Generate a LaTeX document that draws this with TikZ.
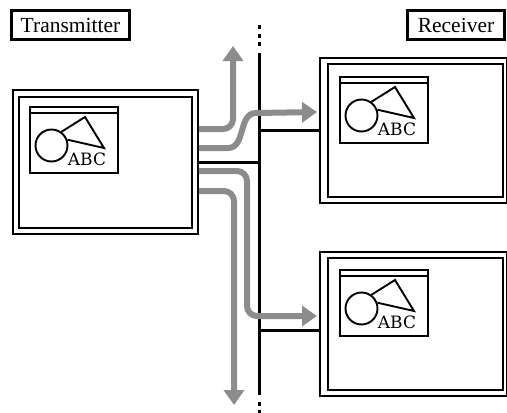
\documentclass[tikz,border=0pt]{standalone}
\usepackage{fontspec}
\setmainfont{Liberation Serif}
\newfontfamily\slabfont{DejaVu Serif}
\usetikzlibrary{arrows.meta, positioning, calc}
\tikzstyle{label} = [rectangle, draw=black, line width=2.4pt, font=\fontsize{21.5}{24}\selectfont, inner sep=0pt, minimum height=29pt]
\tikzstyle{terminal} = [rectangle, draw=black, line width=1.9pt, minimum width=#1, anchor=north west]
\tikzstyle{screen} = [rectangle, draw=black, line width=1.9pt, minimum width=88pt, minimum height=66pt, anchor=north west]
\tikzstyle{bus} = [line width=3pt]
\tikzstyle{signal} = [line width=6pt, draw=black!45, rounded corners=10pt, -{Triangle[width=20pt,length=15pt,fill=black!45]}]
\tikzset{
  picture/.pic = {
    \draw[line width=1.7pt] (0,7) -- (88,7);
    \node[circle, draw=black, line width=1.9pt, minimum size=32pt, inner sep=0pt] (-disc) at (22.5,39.5) {};
    \coordinate (-apex) at (56,11);
    \coordinate (-tip) at (75,42);
    \draw[line width=1.9pt] (-disc.54) -- (-apex) -- (-tip) -- (-disc.20);
    \node[font=\slabfont\fontsize{17}{20}\selectfont, inner sep=0pt] (-abc) at (58,53) {ABC};
  }
}
\begin{document}
\begin{tikzpicture}[x=1pt, y=-1pt]
    \useasboundingbox (0,0) rectangle (507,413);
    % Labels
    \node[label, minimum width=118pt] (transmitter) at (70.5,25) {Transmitter};
    \node[label, minimum width=97pt] (receiver) at (456,25) {Receiver};

    % Terminals
    \node[terminal=185pt, minimum height=144pt] (tx) at (12,89) {};
    \node[terminal=173pt, minimum height=131pt] (txin) at (18,96) {};
    \node[terminal=187pt, minimum height=145pt] (rxone) at (319,57) {};
    \node[terminal=175pt, minimum height=133pt] (rxonein) at (327,63) {};
    \node[terminal=187pt, minimum height=144pt] (rxtwo) at (319,251) {};
    \node[terminal=175pt, minimum height=132pt] (rxtwoin) at (327,257) {};

    % Screens
    \node[screen] (txscreen) at (29,106) {};
    \node[screen] (rxonescreen) at (339,76) {};
    \node[screen] (rxtwoscreen) at (339,269) {};
    \pic (txpic) at (29,106) {picture};
    \pic (rxonepic) at (339,76) {picture};
    \pic (rxtwopic) at (339,269) {picture};

    % Bus
    \coordinate (bustop) at (259,53);
    \coordinate (busbottom) at (259,395);
    \coordinate (dottop) at (259,25);
    \coordinate (dotend) at (259,49);
    \coordinate (dotstart) at (259,402);
    \coordinate (dotbottom) at (259,413);
    \draw[bus] (bustop) -- (busbottom);
    \draw[bus, dash pattern=on 4pt off 4.5pt] (dottop) -- (dotend);
    \draw[bus, dash pattern=on 4pt off 3.5pt] (dotstart) -- (dotbottom);
    \draw[bus] (tx.east |- 0,162) -- (259,162);
    \draw[bus] (259,130) -- (rxone.west |- 0,130);
    \draw[bus] (259,330) -- (rxtwo.west |- 0,330);

    % Signals
    \coordinate (upend) at (233,46);
    \coordinate (downend) at (234,405);
    \coordinate (oneend) at (317,112);
    \coordinate (twoend) at (317,316);
    \draw[signal] (tx.east |- 0,129) -- (233,129) -- (upend);
    \draw[signal, rounded corners=0pt] (tx.east |- 0,148) -- (228,148) .. controls (246,148) and (238,113) .. (256,113) -- (oneend);
    \draw[signal] (tx.east |- 0,171) -- (247,171) -- (247,316) -- (twoend);
    \draw[signal] (tx.east |- 0,191) -- (234,191) -- (downend);
\end{tikzpicture}
\end{document}
